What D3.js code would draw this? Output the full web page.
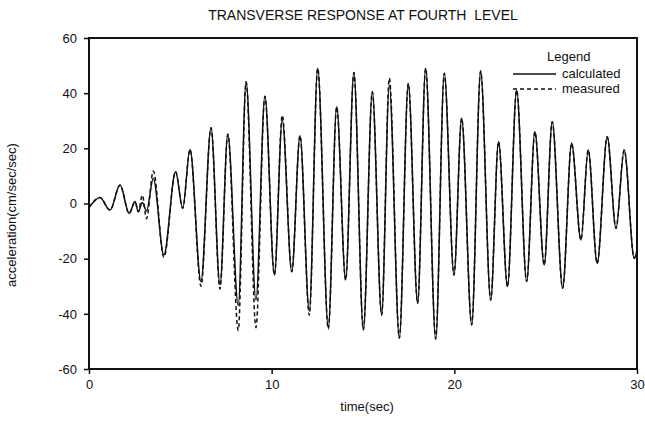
<!DOCTYPE html>
<html>
<head>
<meta charset="utf-8">
<script src="https://cdn.jsdelivr.net/npm/d3@7"></script>
<style>
  html, body { margin: 0; padding: 0; background: #fff; }
  svg { display: block; }
  text { font-family: "Liberation Sans", Arial, Helvetica, sans-serif; fill: #111; }
</style>
</head>
<body>
<svg id="chart" width="645" height="421"></svg>
<script>
// ---- data (local extrema of each record) ----
const calcTime = [0, 0.6, 1.15, 1.7, 2.2, 2.52, 2.7, 2.92, 3.15, 3.52, 4.1, 4.74, 5.13, 5.53, 6.13, 6.68, 7.17, 7.6, 8.17, 8.6, 9.14, 9.63, 10.15, 10.58, 11.1, 11.55, 12.06, 12.52, 13.1, 13.56, 14.05, 14.5, 15.02, 15.51, 16.02, 16.44, 16.99, 17.48, 17.99, 18.43, 18.98, 19.45, 19.98, 20.4, 20.95, 21.44, 21.99, 22.42, 22.91, 23.41, 23.96, 24.41, 24.92, 25.36, 25.93, 26.42, 26.93, 27.33, 27.82, 28.37, 28.85, 29.3, 29.85, 30];
const calcAccel = [-1.5, 2.2, -2.4, 6.7, -3.6, 0.7, -3, 0.4, -2.7, 9.1, -18.7, 11.5, -1.7, 19.6, -28.3, 27.5, -29.5, 25.1, -37, 44.1, -35, 38.9, -25.9, 30.2, -24.7, 24.6, -39, 49, -45, 35.1, -27.7, 47.5, -45.8, 40.5, -40.4, 43, -48.8, 43.5, -36.2, 49, -49.1, 47.2, -25.9, 30.9, -44, 48, -35, 22.4, -30.1, 41.1, -28.3, 26, -22.3, 29.6, -30.7, 21.8, -13.2, 19.4, -21.7, 24.2, -9, 19.4, -19.9, -17];

const measTime = [0, 0.6, 1.15, 1.7, 2.2, 2.52, 2.7, 2.92, 3.15, 3.52, 4.1, 4.74, 5.13, 5.53, 6.13, 6.68, 7.17, 7.6, 8.17, 8.6, 9.14, 9.63, 10.15, 10.58, 11.1, 11.55, 12.06, 12.52, 13.1, 13.56, 14.05, 14.5, 15.02, 15.51, 16.02, 16.44, 16.99, 17.48, 17.99, 18.43, 18.98, 19.45, 19.98, 20.4, 20.95, 21.44, 21.99, 22.42, 22.91, 23.41, 23.96, 24.41, 24.92, 25.36, 25.93, 26.42, 26.93, 27.33, 27.82, 28.37, 28.85, 29.3, 29.85, 30];
const measAccel = [-1.5, 2.2, -2.4, 6.7, -3.6, 0.7, -3, 3, -5.5, 11.8, -19.5, 11.5, -1.7, 19.6, -30, 27.5, -31, 25.1, -46, 44.1, -45, 38.9, -25.9, 32, -24.7, 24.6, -40.5, 49, -45.5, 35.1, -27.7, 47.5, -45.8, 40.5, -40.4, 45.5, -48.8, 43.5, -36.2, 49, -49.1, 47.2, -25.9, 30.9, -44, 48, -35, 22.4, -30.1, 41.1, -28.3, 26, -22.3, 29.6, -30.7, 21.8, -13.2, 19.4, -21.7, 24.2, -9, 19.4, -19.9, -17];

const xTicks = [0, 10, 20, 30];
const xTickLabels = ["0", "10", "20", "30"];
const yTicks = [-60, -40, -20, 0, 20, 40, 60];
const yTickLabels = ["-60", "-40", "-20", "0", "20", "40", "60"];
const seriesNames = ["calculated", "measured"];

// ---- layout ----
const svg = d3.select("#chart");
const plotL = 89, plotR = 637, plotT = 38, plotB = 369;
const x = d3.scaleLinear().domain([0, 30]).range([plotL, plotR]);
const y = d3.scaleLinear().domain([-60, 60]).range([plotB, plotT]);

const calc = calcTime.map((t, i) => ({ t, v: calcAccel[i] }));
const meas = measTime.map((t, i) => ({ t, v: measAccel[i] }));

const line = d3.line().x(d => x(d.t)).y(d => y(d.v)).curve(d3.curveMonotoneX);

// title
svg.append("text").attr("x", 363).attr("y", 20).attr("text-anchor", "middle")
  .style("font-size", "14px").style("white-space", "pre")
  .text("TRANSVERSE RESPONSE AT FOURTH  LEVEL");

// series
svg.append("path").datum(calc).attr("d", line)
  .attr("fill", "none").attr("stroke", "#111").attr("stroke-width", 1.5);
svg.append("path").datum(meas).attr("d", line)
  .attr("fill", "none").attr("stroke", "#111").attr("stroke-width", 1.5)
  .attr("stroke-dasharray", "4,3");

// frame
svg.append("rect").attr("x", plotL).attr("y", plotT)
  .attr("width", plotR - plotL).attr("height", plotB - plotT)
  .attr("fill", "none").attr("stroke", "#111").attr("stroke-width", 2);

// axes
const yAxis = d3.axisLeft(y).tickValues(yTicks).tickSize(5).tickPadding(7)
  .tickFormat((d, i) => yTickLabels[i]);
const gy = svg.append("g").attr("transform", `translate(${plotL},0)`).call(yAxis);
const xAxis = d3.axisBottom(x).tickValues(xTicks).tickSize(5).tickPadding(6)
  .tickFormat((d, i) => xTickLabels[i]);
const gx = svg.append("g").attr("transform", `translate(0,${plotB})`).call(xAxis);
[gx, gy].forEach(g => {
  g.select(".domain").remove();
  g.selectAll(".tick line").attr("stroke", "#111").attr("stroke-width", 1.5);
  g.selectAll(".tick text").style("font-size", "13px").attr("fill", "#111")
    .style("font-family", '"Liberation Sans", Arial, sans-serif');
});

// axis titles
svg.append("text").attr("x", 367).attr("y", 411).attr("text-anchor", "middle")
  .style("font-size", "13px").text("time(sec)");
svg.append("text").attr("transform", "translate(16,215) rotate(-90)")
  .attr("text-anchor", "middle").style("font-size", "13px")
  .text("acceleration(cm/sec/sec)");

// legend
const lg = svg.append("g");
lg.append("text").attr("x", 547).attr("y", 61).style("font-size", "13px").text("Legend");
const dashes = [null, "4,3"];
seriesNames.forEach((name, i) => {
  const yy = 74 + i * 15;
  lg.append("line").attr("x1", 513).attr("x2", 556).attr("y1", yy).attr("y2", yy)
    .attr("stroke", "#111").attr("stroke-width", 1.3)
    .attr("stroke-dasharray", dashes[i]);
  lg.append("text").attr("x", 562).attr("y", yy + 4).style("font-size", "13px").text(name);
});
</script>
</body>
</html>
